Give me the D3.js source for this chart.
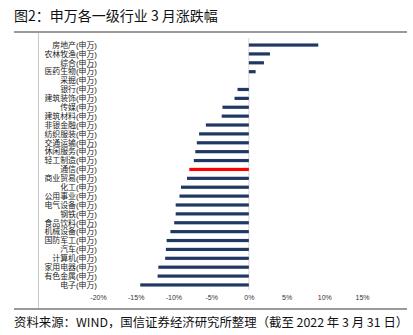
<!DOCTYPE html>
<html>
<head>
<meta charset="utf-8">
<script src="https://cdn.jsdelivr.net/npm/d3@7/dist/d3.min.js"></script>
<style>
  html, body { margin: 0; padding: 0; background: #fff; }
  svg { display: block; }
</style>
</head>
<body>
<svg id="chart" width="413" height="335"></svg>
<script>
// Shenwan level-1 industries, March returns (%)
const industries = [
  "房地产", "农林牧渔", "综合", "医药生物", "采掘", "银行", "建筑装饰", "传媒",
  "建筑材料", "非银金融", "纺织服装", "交通运输", "休闲服务", "轻工制造", "通信",
  "商业贸易", "化工", "公用事业", "电气设备", "钢铁", "食品饮料", "机械设备",
  "国防军工", "汽车", "计算机", "家用电器", "有色金属", "电子"
];
const returns = [
  9.2, 2.8, 2.0, 0.9, 0.0, -1.5, -1.9, -3.5,
  -3.6, -5.7, -6.6, -6.9, -7.1, -7.3, -7.9,
  -8.2, -9.0, -9.2, -9.7, -9.7, -9.9, -10.4,
  -10.9, -11.0, -11.1, -12.0, -12.1, -14.4
];
const highlighted = "通信";
const tickValues = [-20, -15, -10, -5, 0, 5, 10, 15];
const titleText = "图2：申万各一级行业 3 月涨跌幅";
const sourceText = "资料来源：WIND，国信证券经济研究所整理（截至 2022 年 3 月 31 日）";

const rows = industries.map((name, i) => ({ name, value: returns[i] }));

const svg = d3.select("#chart");
const fontCJK = "'Noto Sans CJK SC', 'Noto Sans', sans-serif";
// Latin-first stack keeps the dense row labels' line boxes compact
const fontLabel = "'Liberation Sans', 'Noto Sans CJK SC', sans-serif";

// Frame: title rule, bottom rule, left guide
svg.append("line").attr("x1", 14).attr("x2", 407).attr("y1", 32).attr("y2", 32)
  .attr("stroke", "#9a9a9a").attr("stroke-width", 2.2);
svg.append("line").attr("x1", 14).attr("x2", 407).attr("y1", 309).attr("y2", 309)
  .attr("stroke", "#9a9a9a").attr("stroke-width", 2.2);
svg.append("line").attr("x1", 38.5).attr("x2", 38.5).attr("y1", 33).attr("y2", 308)
  .attr("stroke", "#c8c8c8").attr("stroke-width", 1);

svg.append("text").attr("x", 14).attr("y", 21)
  .attr("font-family", fontCJK).attr("font-size", 14).attr("fill", "#111")
  .text(titleText);

svg.append("text").attr("x", 14).attr("y", 327)
  .attr("font-family", fontCJK).attr("font-size", 12.4).attr("fill", "#111")
  .text(sourceText);

// Scales
const x = d3.scaleLinear().domain([-20, 15]).range([98, 362]);
const y = d3.scaleBand().domain(industries).range([40.6, 289.4]).paddingInner(0.64).paddingOuter(0.32);

// Zero line
svg.append("line").attr("x1", x(0)).attr("x2", x(0)).attr("y1", 38).attr("y2", 290)
  .attr("stroke", "#d9d9d9").attr("stroke-width", 1);

// Bars
svg.append("g").selectAll("rect").data(rows).join("rect")
  .attr("x", d => x(Math.min(0, d.value)))
  .attr("width", d => Math.abs(x(d.value) - x(0)))
  .attr("y", d => y(d.name))
  .attr("height", y.bandwidth())
  .attr("fill", d => d.name === highlighted ? "#ff0000" : "#1f3864");

// Category labels
const yAxis = svg.append("g").attr("transform", "translate(98,0)")
  .call(d3.axisLeft(y).tickSize(0).tickPadding(1).tickFormat(n => n + "(申万)"));
yAxis.select(".domain").remove();
yAxis.selectAll("text").attr("font-family", fontLabel).attr("font-size", 7.9).attr("fill", "#222")
  .attr("dy", "0.35em");

// Value axis labels
const xAxis = svg.append("g").attr("transform", "translate(0,293)")
  .call(d3.axisBottom(x).tickValues(tickValues).tickSize(0).tickPadding(2).tickFormat(v => v + "%"));
xAxis.select(".domain").remove();
xAxis.selectAll("text").attr("font-family", "'Liberation Sans', Arial, sans-serif")
  .attr("font-size", 7).attr("fill", "#333");
</script>
</body>
</html>
